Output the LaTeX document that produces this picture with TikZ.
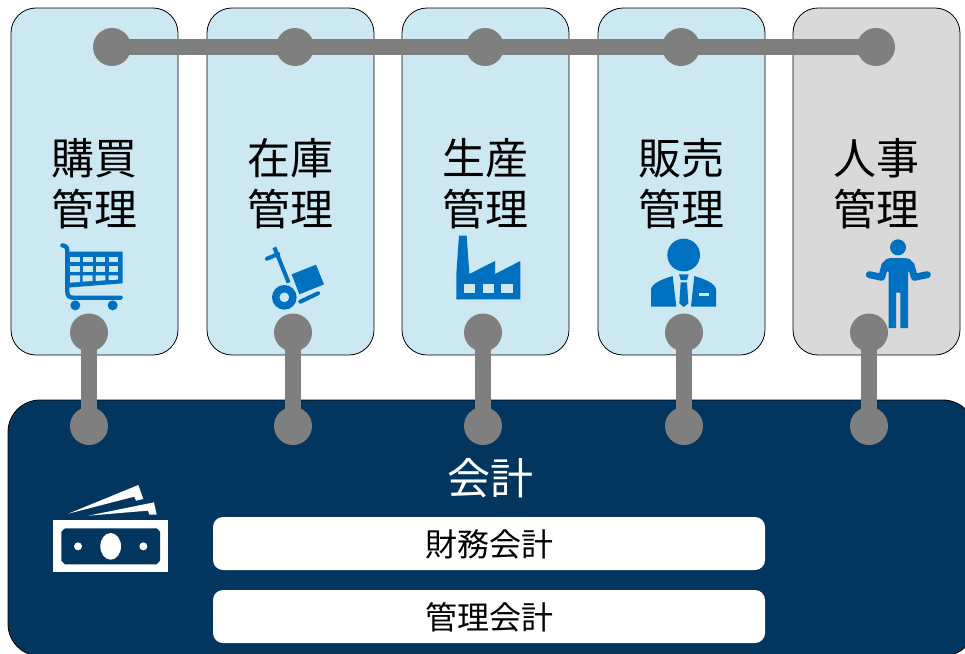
\documentclass[tikz,border=0pt]{standalone}
\usepackage{fontspec}
\setmainfont{Noto Sans CJK JP}
\definecolor{lightb}{HTML}{CCE8F3}
\definecolor{lightg}{HTML}{D9D9D9}
\definecolor{navy}{HTML}{02365F}
\definecolor{iconb}{HTML}{0070C0}
\definecolor{linkg}{HTML}{7F7F7F}
\tikzset{
 x=1pt,y=-1pt,
 module/.style={draw=black,line width=0.8pt,rounded corners=25pt,minimum width=167pt,minimum height=347pt,inner sep=0pt,fill=lightb},
 dot/.style={circle,fill=linkg,minimum size=38pt,inner sep=0pt},
 link/.style={draw=linkg,line width=16pt},
 title/.style={font=\fontsize{43}{51.5}\selectfont,align=center,text=black,inner sep=0pt},
 sub/.style={fill=white,rounded corners=10pt,minimum width=552pt,minimum height=53pt,inner sep=0pt,font=\fontsize{32}{36}\selectfont,text=black},
 icon/.style={fill=iconb,draw=none},
 iconl/.style={draw=iconb,line cap=round,line join=round},
 zoomed/.style={scale=1/3},
}
\begin{document}
\begin{tikzpicture}
\useasboundingbox (0,0) rectangle (965,653);
\clip (0,0) rectangle (965,653);
\fill[white] (0,0) rectangle (965,653);
% modules
\node[module] (m1) at (94.5,181.5) {};
\node[module] (m2) at (290.5,181.5) {};
\node[module] (m3) at (485.5,181.5) {};
\node[module] (m4) at (681.5,181.5) {};
\node[module,fill=lightg] (m5) at (876.5,181.5) {};
% accounting block
\node[fill=navy,draw=black,line width=0.8pt,rounded corners=32pt,minimum width=967pt,minimum height=256pt,inner sep=0pt] (acc) at (491.5,528) {};
% titles
\node[title] (t1) at (94.5,183.5) {購買\\管理};
\node[title] (t2) at (290.5,183.5) {在庫\\管理};
\node[title] (t3) at (485.5,183.5) {生産\\管理};
\node[title] (t4) at (681.5,183.5) {販売\\管理};
\node[title] (t5) at (876.5,183.5) {人事\\管理};
\node[title,text=white,font=\fontsize{43}{50}\selectfont] (t6) at (490,478) {会計};
\node[sub] (s1) at (489,543.5) {\raisebox{-12.5pt}[20pt][20pt]{財務会計}};
\node[sub] (s2) at (489,616.5) {\raisebox{-12.5pt}[20pt][20pt]{管理会計}};
% cart
\begin{scope}[shift={(30,230)},zoomed]
\draw[iconl,line width=4.3pt] (97,46) .. controls (108,48) and (112,52) .. (112,62) -- (112,185) .. controls (112,198) and (118,203) .. (130,203) -- (272,203);
\fill[icon] (112,65) -- (278,65) -- (278,160) -- (112,173) -- cycle;
\foreach \a/\b in {120/150,158/188,197/226,236/264}{
 \fill[lightb] (\a,80) rectangle (\b,96);
 \fill[lightb] (\a,107) rectangle (\b,125);
}
\fill[lightb] (120,136) -- (150,136) -- (150,156) -- (120,158) -- cycle;
\fill[lightb] (158,136) -- (188,136) -- (188,153) -- (158,155) -- cycle;
\fill[lightb] (197,136) -- (226,136) -- (226,151) -- (197,153) -- cycle;
\fill[lightb] (236,136) -- (264,136) -- (264,149) -- (236,150) -- cycle;
\fill[icon] (136,226) circle[radius=15];
\fill[icon] (248,226) circle[radius=15];
% dolly
\draw[iconl,line width=4pt,line cap=butt] (733,52) -- (776,158);
\draw[iconl,line width=4pt] (711,86) -- (745,72);
\fill[icon] (785,133) -- (858,104) -- (882,163) -- (808,193) -- cycle;
\fill[icon,even odd rule] (763,202) circle[radius=37] (763,202) circle[radius=15];
\draw[iconl,line width=4pt] (811,215) -- (864,190);
\end{scope}
% factory, person, man
\begin{scope}[shift={(440,230)},zoomed]
\fill[icon] (57,17) -- (80,17) -- (88,132) -- (165,93) -- (165,132) -- (241,93) -- (241,208) -- (49,208) -- (49,130) -- cycle;
\foreach \a in {72,128,184}{\fill[lightb] (\a,162) rectangle ++(34,26);}
\fill[icon] (731,75) circle[radius=49];
\fill[icon] (633,230) -- (633,178) .. controls (636,160) and (665,148) .. (698,138) -- (709,230) -- cycle;
\fill[icon] (828,230) -- (828,178) .. controls (825,160) and (796,148) .. (763,138) -- (753,230) -- cycle;
\fill[icon] (717,133) -- (746,133) -- (741,150) -- (722,150) -- cycle;
\fill[icon] (722,157) -- (741,157) -- (745,220) -- (731,231) -- (718,220) -- cycle;
\fill[lightb] (777,190) rectangle (807,197);
\fill[icon] (1374,52) circle[radius=24];
\fill[icon] (1346,294) -- (1346,125) -- (1322,125) -- (1330,100) .. controls (1334,88) and (1342,84) .. (1352,84) -- (1396,84) .. controls (1406,84) and (1414,88) .. (1418,100) -- (1426,125) -- (1404,125) -- (1404,294) -- (1381,294) -- (1381,188) -- (1368,188) -- (1368,294) -- cycle;
\draw[iconl,line width=7pt] (1335,105) -- (1325,142) -- (1288,134);
\draw[iconl,line width=7pt] (1413,105) -- (1423,142) -- (1462,134);
\end{scope}
% money
\begin{scope}[shift={(30,470)},zoomed]
\fill[white] (70,151) rectangle (414,307);
\fill[navy] (105,175) -- (380,175) -- (390,185) -- (390,272) -- (380,283) -- (105,283) -- (94,272) -- (94,185) -- cycle;
\fill[white] (242,229) ellipse[x radius=31,y radius=40];
\fill[white] (144,229) circle[radius=12];
\fill[white] (340,229) circle[radius=12];
\fill[white] (115,131) -- (325,45) -- (340,87) -- (318,92) -- (313,80) -- cycle;
\fill[white] (175,137) -- (372,97) -- (380,134) -- (358,134) -- (354,122) -- cycle;
\end{scope}
% bus dots
\node[dot] (a1) at (112,47) {};
\node[dot] (a2) at (295,47) {};
\node[dot] (a3) at (485,47) {};
\node[dot] (a4) at (681,47) {};
\node[dot] (a5) at (876,47) {};
\node[dot] (u1) at (89,332.5) {};
\node[dot] (u2) at (293,332.5) {};
\node[dot] (u3) at (483,332.5) {};
\node[dot] (u4) at (684,332.5) {};
\node[dot] (u5) at (869,332.5) {};
\node[dot] (d1) at (89,426) {};
\node[dot] (d2) at (293,426) {};
\node[dot] (d3) at (483,426) {};
\node[dot] (d4) at (684,426) {};
\node[dot] (d5) at (869,426) {};
\draw[link] (a1.center) -- (a2.center);
\draw[link] (a2.center) -- (a3.center);
\draw[link] (a3.center) -- (a4.center);
\draw[link] (a4.center) -- (a5.center);
\foreach \i in {1,...,5}{\draw[link] (u\i.center) -- (d\i.center);}
\end{tikzpicture}
\end{document}
